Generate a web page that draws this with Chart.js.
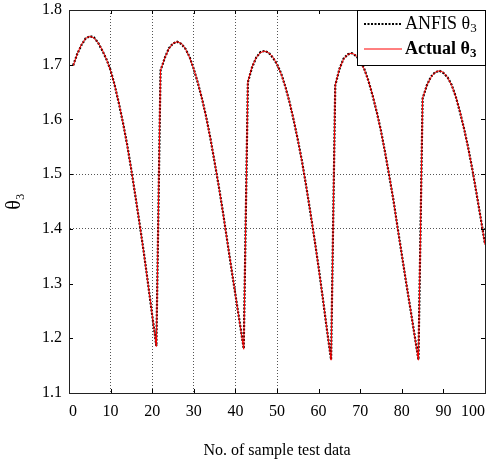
<!DOCTYPE html>
<html>
<head>
<meta charset="utf-8">
<script src="https://cdn.jsdelivr.net/npm/chart.js@4/dist/chart.umd.min.js"></script>
<style>
html,body{margin:0;padding:0;background:#fff;}
#wrap{width:491px;height:466px;}
</style>
</head>
<body>
<div id="wrap"><canvas id="c" width="491" height="466"></canvas></div>
<script>
// ---- data ----
const sampleIndex = [1,2,3,4,5,6,7,8,9,10,11,12,13,14,15,16,17,18,19,20,
  21,22,23,24,25,26,27,28,29,30,31,32,33,34,35,36,37,38,39,40,
  41,42,43,44,45,46,47,48,49,50,51,52,53,54,55,56,57,58,59,60,
  61,62,63,64,65,66,67,68,69,70,71,72,73,74,75,76,77,78,79,80,
  81,82,83,84,85,86,87,88,89,90,91,92,93,94,95,96,97,98,99,100];

const actualTheta3 = [
  1.698,1.720,1.737,1.748,1.752,1.749,1.740,1.727,1.710,1.689,
  1.662,1.630,1.593,1.552,1.507,1.459,1.408,1.355,1.300,1.243,
  1.185,
  1.690,1.712,1.729,1.739,1.742,1.739,1.729,1.713,1.692,1.667,
  1.637,1.603,1.565,1.523,1.478,1.430,1.380,1.330,1.280,1.230,
  1.180,
  1.669,1.696,1.713,1.722,1.725,1.722,1.714,1.701,1.683,1.660,
  1.632,1.600,1.563,1.523,1.479,1.432,1.382,1.329,1.274,1.217,
  1.160,
  1.663,1.692,1.710,1.719,1.721,1.717,1.707,1.691,1.670,1.644,
  1.613,1.578,1.539,1.497,1.452,1.401,1.353,1.305,1.257,1.208,
  1.160,
  1.639,1.662,1.677,1.686,1.689,1.686,1.677,1.662,1.641,1.614,
  1.582,1.546,1.507,1.464,1.418,1.371];

const anfisTheta3 = [
  1.699,1.720,1.736,1.748,1.752,1.750,1.740,1.726,1.710,1.690,
  1.662,1.629,1.593,1.553,1.507,1.458,1.408,1.356,1.300,1.242,
  1.186,
  1.689,1.712,1.730,1.739,1.742,1.738,1.729,1.714,1.692,1.666,
  1.637,1.604,1.565,1.522,1.478,1.431,1.380,1.329,1.280,1.231,
  1.181,
  1.668,1.695,1.713,1.723,1.725,1.722,1.713,1.701,1.684,1.660,
  1.632,1.599,1.563,1.524,1.479,1.431,1.382,1.330,1.274,1.216,
  1.161,
  1.662,1.692,1.711,1.719,1.721,1.716,1.707,1.692,1.670,1.643,
  1.613,1.579,1.539,1.496,1.452,1.402,1.353,1.304,1.257,1.209,
  1.161,
  1.638,1.662,1.678,1.686,1.689,1.685,1.677,1.663,1.641,1.613,
  1.582,1.547,1.507,1.463,1.418,1.372];

const xTicks = [0,10,20,30,40,50,60,70,80,90,100];
const yTicks = [1.1,1.2,1.3,1.4,1.5,1.6,1.7,1.8];
const xGridAt = [10,20,30,40,50];
const yGridAt = [1.4,1.5];
const seriesNames = ['ANFIS', 'Actual'];

// ---- plugins ----
const near = (v, arr) => arr.some(a => Math.abs(a - v) < 1e-6);
const serif = '"Liberation Serif", "Times New Roman", serif';

const framePlugin = {
  id: 'frame',
  afterDatasetsDraw(chart) {
    const {ctx, chartArea: a, scales: {x, y}} = chart;
    ctx.save();
    ctx.strokeStyle = '#000';
    ctx.lineWidth = 1;
    ctx.beginPath();
    xTicks.forEach(v => {
      const px = Math.round(x.getPixelForValue(v)) + 0.5;
      ctx.moveTo(px, a.bottom); ctx.lineTo(px, a.bottom - 4);
      ctx.moveTo(px, a.top); ctx.lineTo(px, a.top + 4);
    });
    yTicks.forEach(v => {
      const py = Math.round(y.getPixelForValue(v)) + 0.5;
      ctx.moveTo(a.left, py); ctx.lineTo(a.left + 4, py);
      ctx.moveTo(a.right, py); ctx.lineTo(a.right - 4, py);
    });
    ctx.stroke();
    ctx.strokeStyle = '#222';
    ctx.strokeRect(Math.round(a.left) + 0.5, Math.round(a.top) + 0.5,
      Math.round(a.right - a.left), Math.round(a.bottom - a.top));
    ctx.restore();
  },
  afterDraw(chart) {
    const {ctx, chartArea: a} = chart;
    const bx = 357, by = Math.round(a.top), bw = Math.round(a.right) - 357, bh = 55;
    ctx.save();
    ctx.fillStyle = '#fff';
    ctx.fillRect(bx, by, bw, bh);
    ctx.strokeStyle = '#000';
    ctx.lineWidth = 1;
    ctx.strokeRect(bx + 0.5, by + 0.5, bw, bh);
    ctx.beginPath();
    ctx.setLineDash([2, 1.5]);
    ctx.lineWidth = 2;
    ctx.strokeStyle = '#000';
    ctx.moveTo(364, by + 14); ctx.lineTo(401, by + 14);
    ctx.stroke();
    ctx.setLineDash([]);
    ctx.beginPath();
    ctx.lineWidth = 1;
    ctx.strokeStyle = '#ff0000';
    ctx.moveTo(364, by + 39); ctx.lineTo(402, by + 39);
    ctx.stroke();
    ctx.fillStyle = '#000';
    ctx.textBaseline = 'middle';
    ctx.textAlign = 'left';
    const drawLabel = (name, yy, weight) => {
      ctx.font = weight + ' 18px ' + serif;
      const t = name + ' \u03b8';
      ctx.fillText(t, 405, yy);
      const w = ctx.measureText(t).width;
      ctx.font = weight + ' 13px ' + serif;
      ctx.fillText('3', 405 + w, yy + 5);
    };
    drawLabel(seriesNames[0], by + 14, 'normal');
    drawLabel(seriesNames[1], by + 39, 'bold');
    ctx.restore();
  }
};

new Chart(document.getElementById('c'), {
  type: 'line',
  data: {
    datasets: [
      {
        label: 'ANFIS \u03b8\u2083',
        data: sampleIndex.map((v, i) => ({x: v, y: anfisTheta3[i]})),
        borderColor: '#000',
        borderWidth: 2.2,
        borderDash: [2, 1.5],
        pointRadius: 0,
        tension: 0,
        order: 2
      },
      {
        label: 'Actual \u03b8\u2083',
        data: sampleIndex.map((v, i) => ({x: v, y: actualTheta3[i]})),
        borderColor: '#ff0000',
        borderWidth: 1,
        pointRadius: 0,
        tension: 0,
        order: 1
      }
    ]
  },
  options: {
    responsive: false,
    animation: false,
    layout: {padding: {top: 10, right: 6, left: 0, bottom: 0}},
    plugins: {
      legend: {display: false},
      tooltip: {enabled: false}
    },
    scales: {
      x: {
        type: 'linear',
        min: 0, max: 100,
        afterBuildTicks: s => { s.ticks = xTicks.map(v => ({value: v})); },
        afterFit: s => { s.height = 73; s.paddingLeft = 0; s.paddingRight = 0; },
        ticks: {color: '#000', padding: 9, align: 'inner', font: {family: serif, size: 16}, maxRotation: 0},
        grid: {
          drawTicks: false,
          color: c => (c.tick && near(c.tick.value, xGridAt)) ? '#555' : 'rgba(0,0,0,0)',
          lineWidth: 1
        },
        border: {display: true, color: '#222', dash: [1, 2]},
        title: {display: true, text: 'No. of sample test data', color: '#000',
          font: {family: serif, size: 16}, padding: {top: 4, bottom: 6}}
      },
      y: {
        type: 'linear',
        min: 1.1, max: 1.8,
        afterBuildTicks: s => { s.ticks = yTicks.map(v => ({value: v})); },
        afterFit: s => { s.width = 69; s.paddingTop = 0; s.paddingBottom = 0; },
        ticks: {color: '#000', padding: 7, font: {family: serif, size: 16},
          callback: v => v.toFixed(1)},
        grid: {
          drawTicks: false,
          color: c => (c.tick && near(c.tick.value, yGridAt)) ? '#555' : 'rgba(0,0,0,0)',
          lineWidth: 1
        },
        border: {display: true, color: '#222', dash: [1, 2]},
        title: {display: true, text: '\u03b8\u2083', color: '#000',
          font: {family: serif, size: 20}, padding: {top: 3, bottom: 0}}
      }
    }
  },
  plugins: [framePlugin]
});
</script>
</body>
</html>
